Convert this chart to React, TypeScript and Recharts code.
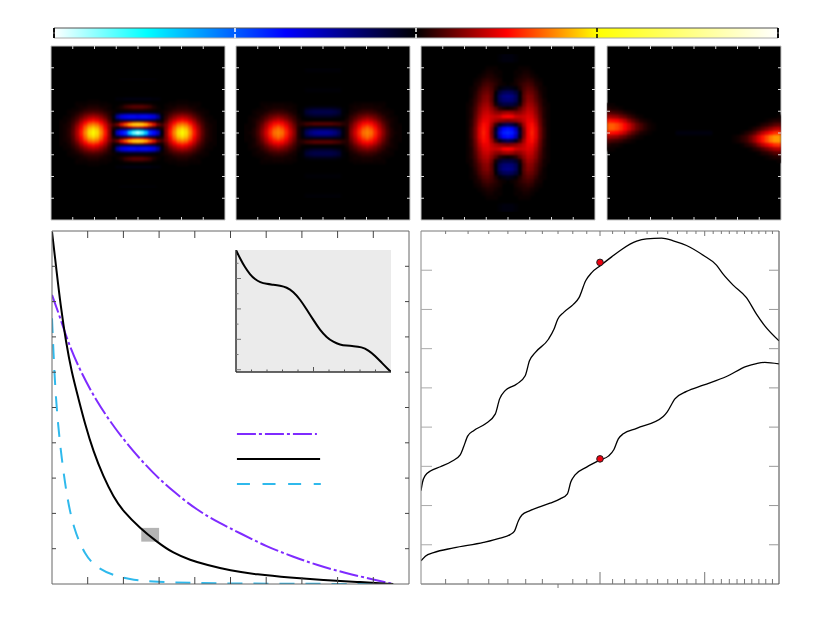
import { useMemo } from 'react'
import {
  ScatterChart, Scatter, LineChart, Line, BarChart, Bar, XAxis, YAxis,
  CartesianGrid, ReferenceArea, ReferenceDot
} from 'recharts'

// colour scale, shared by the colorbar and the four maps
const colorStops = [0, 0.128, 0.32, 0.5, 0.625, 0.75, 1]
const colorValues = [[255, 255, 255], [0, 255, 255], [0, 0, 255], [0, 0, 0], [255, 0, 0], [255, 255, 0], [255, 255, 255]]
const colorbarTicks = [-1, -0.5, 0, 0.5, 1]

// map values in hundredths, listed from the centre column outwards, one list per row offset
// maps A and B use half-height rows (87 rows), C and D full rows (43)
const a0 = [-100, -90, -72, -45, -38, -28, -2, 13, 27, 38, 47, 50, 47, 38, 27, 17, 9, 4, 2, 1]
const a1 = [-78, -70, -55, -40, -35, -23, -1, 14, 27, 37, 46, 49, 46, 37, 27, 17, 9, 4, 2, 1]
const a2 = [-10, -9, -8, -7, -6, -3, 2, 13, 25, 35, 44, 47, 44, 35, 25, 16, 8, 4, 2, 1]
const a3 = [32, 30, 24, 15, 9, 3, 4, 12, 23, 33, 40, 43, 40, 33, 23, 15, 8, 3, 2, 1]
const a4 = [56, 54, 48, 38, 28, 14, 8, 13, 21, 29, 36, 38, 36, 29, 21, 13, 7, 3, 2, 1]
const a5 = [38, 36, 30, 22, 14, 5, 3, 9, 18, 25, 31, 33, 31, 25, 18, 11, 6, 3, 1, 1]
const a6 = [-3, -3, -3, -3, -2, -1, 1, 8, 15, 21, 25, 27, 25, 21, 15, 9, 5, 2, 1, 1]
const a7 = [-28, -29, -29, -28, -25, -15, 0, 5, 12, 16, 20, 22, 20, 16, 12, 7, 4, 2, 1]
const a8 = [-36, -38, -38, -36, -33, -24, -3, 5, 9, 13, 16, 17, 16, 13, 9, 6, 3, 1, 1]
const a9 = [-28, -29, -29, -28, -25, -15, -1, 3, 7, 10, 12, 13, 12, 10, 7, 4, 2, 1]
const a10 = [-5, -5, -5, -4, -3, -2, 1, 3, 5, 7, 8, 9, 8, 7, 5, 3, 2, 1]
const a11 = [0, 0, 0, 0, 0, 0, 1, 2, 3, 5, 6, 6, 6, 5, 3, 2, 1, 1]
const a12 = [5, 5, 4, 3, 2, 1, 0, 1, 2, 3, 4, 4, 4, 3, 2, 1, 1]
const a13 = [10, 10, 9, 7, 3, 1, 0, 1, 2, 2, 3, 3, 3, 2, 2, 1]
const a14 = [5, 5, 4, 3, 1, 0, 0, 1, 1, 1, 2, 2, 2, 1, 1, 1]
const a15 = [0, 0, 0, 0, 0, 0, 0, 0, 1, 1, 1, 1, 1, 1, 1, 1]
const a16 = [0, 0, 0, 0, 0, 0, 0, 0, 0, 0, 1, 1, 1]
const a17 = [-3, -3, -3, -3, -2, -2]
const a27 = [-1, -1, -1, -1, -1]
const mapAUpper = [a27, [], [], [], [], [], [], [], [], [], a17, a16, a15, a14, a13, a12, a11, a10, a9, a8, a7, a6, a5, a4, a3, a2, a1]
const mapA = [...new Array(16).fill([]), ...mapAUpper, a0, ...[...mapAUpper].reverse(), ...new Array(16).fill([])]

const b0 = [-22, -22, -21, -18, -13, -2, 3, 13, 21, 29, 36, 38, 36, 29, 21, 13, 7, 3, 2, 1]
const b1 = [-19, -19, -18, -16, -11, -2, 3, 13, 20, 28, 35, 37, 35, 28, 20, 13, 7, 3, 1, 1]
const b2 = [-10, -10, -10, -8, -6, -1, 3, 12, 19, 27, 33, 36, 33, 27, 19, 12, 6, 3, 1, 1]
const b3 = [-1, -1, -1, -1, 0, 1, 3, 11, 17, 25, 30, 33, 30, 25, 17, 11, 6, 2, 1, 1]
const b4 = [8, 8, 8, 7, 6, 4, 4, 10, 16, 22, 27, 29, 27, 22, 16, 10, 5, 2, 1, 1]
const b5 = [8, 8, 8, 7, 6, 4, 3, 8, 14, 19, 24, 25, 24, 19, 14, 8, 5, 2, 1]
const b6 = [0, 0, 0, 0, 0, 1, 3, 7, 11, 16, 19, 21, 19, 16, 11, 7, 4, 2, 1]
const b7 = [0, 0, 0, 0, 0, 0, 2, 5, 9, 12, 15, 17, 15, 12, 9, 5, 3, 2, 1]
const b8 = [-4, -4, -4, -3, -2, 0, 1, 5, 7, 10, 12, 13, 12, 10, 7, 5, 2, 1, 1]
const b9 = [-8, -8, -8, -7, -5, -1, 1, 3, 5, 8, 9, 10, 9, 8, 5, 3, 2, 1]
const b10 = [-10, -10, -10, -9, -7, -1, 0, 2, 4, 5, 6, 7, 6, 5, 4, 2, 2, 1]
const b11 = [-10, -10, -10, -9, -7, -1, 0, 2, 2, 4, 5, 5, 5, 4, 2, 2, 1, 1]
const b12 = [-6, -6, -6, -5, -4, -1, 0, 1, 2, 2, 3, 3, 3, 2, 2, 1, 1]
const b13 = [-2, -2, -2, -2, -1, 0, 0, 1, 2, 2, 2, 2, 2, 2, 2, 1]
const b14 = [0, 0, 0, 0, 0, 0, 0, 1, 1, 1, 2, 2, 2, 1, 1, 1]
const b15 = [0, 0, 0, 0, 0, 0, 0, 0, 1, 1, 1, 1, 1, 1, 1, 1]
const bFaint = [-1, -1, -1, -1, -1]
const mapBUpper = [bFaint, bFaint, [], [], [], [], [], [], [], [], bFaint, bFaint, [], [], [], [], [], b15, b14, b13, b12, b11, b10, b9, b8, b7, b6, b5, b4, b3, b2, b1]
const mapB = [...new Array(11).fill([]), ...mapBUpper, b0, ...[...mapBUpper].reverse(), ...new Array(11).fill([])]

const c0 = [-42, -40, -30, -6, 12, 24, 28, 22, 12, 5, 1]
const c1 = [-38, -36, -24, -4, 13, 24, 27, 22, 12, 5, 1]
const c2 = [-12, -9, -4, 6, 16, 24, 26, 20, 11, 4, 1]
const c3 = [12, 13, 14, 16, 19, 23, 23, 18, 10, 4, 1]
const c4 = [25, 24, 20, 19, 20, 22, 21, 16, 9, 3, 1]
const c5 = [16, 15, 13, 14, 17, 20, 19, 14, 8, 3, 1]
const c6 = [1, 2, 4, 9, 14, 18, 17, 13, 7, 3, 1]
const c7 = [-9, -9, -6, 2, 11, 16, 15, 11, 6, 2, 1]
const c8 = [-17, -16, -12, -1, 9, 14, 13, 9, 5, 2]
const c9 = [-19, -18, -13, -1, 9, 13, 12, 8, 4, 1]
const c10 = [-13, -12, -8, 0, 8, 11, 10, 7, 3, 1]
const c11 = [-4, -3, -1, 3, 7, 9, 8, 5, 2, 1]
const c12 = [0, 1, 2, 4, 6, 7, 6, 3, 2]
const c13 = [0, 0, 2, 3, 4, 5, 4, 2, 1]
const c14 = [0, 0, 1, 2, 3, 3, 2, 1]
const c15 = [0, 0, 1, 1, 2, 2, 1]
const c16 = [0, 0, 0, 1, 1, 1]
const c18 = [-2, -2, -1]
const mapC = [[], [], c18, c18, [], c16, c15, c14, c13, c12, c11, c10, c9, c8, c7, c6, c5, c4, c3, c2, c1, c0, c1, c2, c3, c4, c5, c6, c7, c8, c9, c10, c11, c12, c13, c14, c15, c16, [], c18, c18, [], []]

// fourth map: one blob on each side edge, lists run inwards from that edge
const leftEdge = [[1, 1], [3, 2, 2, 1], [8, 7, 6, 5, 3, 2, 1], [16, 15, 14, 11, 9, 6, 4, 2, 1], [27, 26, 25, 22, 18, 13, 9, 6, 3, 2, 1], [34, 34, 32, 29, 25, 20, 15, 10, 7, 4, 2, 1], [34, 34, 32, 29, 25, 20, 15, 10, 7, 4, 2, 1], [27, 26, 25, 22, 18, 13, 9, 6, 3, 2, 1], [16, 15, 14, 11, 9, 6, 4, 2, 1], [8, 7, 6, 5, 3, 2, 1], [3, 2, 2, 1], [1, 1], [], [], []]
const rightEdge = [[], [], [], [1], [3, 3, 2, 1], [9, 8, 6, 4, 3, 1], [18, 17, 14, 11, 8, 5, 3, 1], [30, 29, 26, 22, 18, 13, 8, 5, 3, 1], [40, 40, 37, 32, 27, 21, 15, 10, 6, 4, 2, 1], [40, 40, 37, 32, 27, 21, 15, 10, 6, 4, 2, 1], [30, 29, 26, 22, 18, 13, 8, 5, 3, 1], [18, 17, 14, 11, 8, 5, 3, 1], [9, 8, 6, 4, 3, 1], [3, 3, 2, 1], [1]]
const midRow = [-2, -2, -2, -2, -2]
const firstEdgeRow = 14

const panelTicks = [5.375, 10.75, 16.125, 21.5, 26.875, 32.25, 37.625]

// lower left
const blackX = [0, 0.13, 0.24, 0.39, 0.55, 0.74, 0.92, 1.16, 1.44, 1.72, 2.0, 2.47, 2.93, 3.4, 3.87, 4.33, 4.99, 5.73, 6.67, 7.6, 8.53, 9.56]
const blackY = [9.98, 8.85, 7.9, 6.86, 6.0, 5.26, 4.55, 3.75, 3.04, 2.47, 2.05, 1.58, 1.2, 0.87, 0.68, 0.54, 0.38, 0.27, 0.18, 0.11, 0.06, 0]
const purpleX = [0, 0.22, 0.46, 0.78, 1.25, 1.76, 2.28, 2.84, 3.4, 4.05, 4.7, 5.27, 6.01, 6.76, 7.41, 8.25, 9.0, 9.56]
const purpleY = [8.19, 7.57, 6.82, 6.06, 5.17, 4.41, 3.75, 3.13, 2.62, 2.1, 1.72, 1.44, 1.06, 0.77, 0.54, 0.3, 0.13, 0]
const cyanX = [0, 0.04, 0.09, 0.17, 0.27, 0.41, 0.6, 0.92, 1.25, 1.72, 2.28, 2.93, 3.87, 5.27, 9.0]
const cyanY = [7.53, 6.58, 5.54, 4.5, 3.56, 2.52, 1.58, 0.82, 0.46, 0.24, 0.11, 0.06, 0.03, 0.01, 0]
const unitTicks = [1, 2, 3, 4, 5, 6, 7, 8, 9]
const keyPurpleX = [5.18, 7.42]
const keyPurpleY = [4.25, 4.25]
const keyBlackX = [5.18, 7.51]
const keyBlackY = [3.54, 3.54]
const keyCyanX = [5.18, 7.53]
const keyCyanY = [2.83, 2.83]

// inset
const insetX = [0, 0.26, 0.58, 0.9, 1.23, 1.55, 1.98, 2.41, 2.84, 3.27, 3.7, 4.13, 4.56, 4.99, 5.42, 5.85, 6.28, 6.71, 7.14, 7.57, 8.11, 8.54, 8.97, 9.4, 10]
const insetY = [7.87, 7.32, 6.73, 6.27, 5.94, 5.75, 5.64, 5.59, 5.53, 5.42, 5.13, 4.63, 3.97, 3.27, 2.61, 2.13, 1.82, 1.64, 1.58, 1.56, 1.49, 1.29, 0.92, 0.46, -0.15]
const insetTicksX = [1, 2, 3, 4, 5, 6, 7, 8, 9]
const insetTicksY = [0, 1, 2, 3, 4, 5, 6, 7]

// lower right, log x
const upperX = [100, 100.6, 101.7, 103.7, 107.8, 112.7, 116.4, 117.9, 119.8, 122.6, 128.2, 133.3, 135.6, 138.5, 144.9, 149.7, 152.2, 155.6, 163.8, 167.4, 169.8, 173.6, 180.4, 184.4, 189.2, 193.7, 200, 209.2, 217.5, 230.5, 239.5, 253.9, 265.6, 279.6, 298.3, 314, 322.2, 334.9, 352.6, 366.6, 378.6, 400]
const upperY = [2.38, 2.6, 2.77, 2.88, 2.99, 3.13, 3.29, 3.49, 3.77, 3.91, 4.08, 4.33, 4.72, 4.93, 5.1, 5.31, 5.69, 5.9, 6.24, 6.5, 6.75, 6.92, 7.13, 7.3, 7.73, 7.94, 8.11, 8.34, 8.53, 8.74, 8.8, 8.82, 8.75, 8.63, 8.38, 8.13, 7.9, 7.62, 7.3, 6.88, 6.58, 6.2]
const lowerX = [100, 101.7, 105, 113.5, 127.4, 135.9, 141.2, 143.5, 145.9, 147.8, 152.5, 164.8, 171.4, 176.3, 178.6, 181.6, 189.9, 200, 206.6, 211.1, 214.7, 218.9, 230.5, 255.5, 259.5, 267.3, 279.6, 298.3, 326.4, 352.6, 366.6, 378.6, 400]
const lowerY = [0.59, 0.71, 0.8, 0.92, 1.06, 1.17, 1.26, 1.34, 1.62, 1.76, 1.87, 2.06, 2.17, 2.3, 2.6, 2.78, 2.98, 3.16, 3.26, 3.43, 3.7, 3.83, 3.97, 4.27, 4.39, 4.72, 4.91, 5.07, 5.29, 5.55, 5.62, 5.65, 5.61]
const logTicks = [110, 120, 130, 140, 150, 160, 170, 180, 190, 200, 210, 220, 230, 240, 250, 260, 270, 280, 290, 300, 310, 320, 330, 340, 350, 360, 370, 380, 390]
const logValueTicks = [1, 2, 3, 4, 5, 6, 7, 8]
const markerX = 200
const markerUpperY = 8.2
const markerLowerY = 3.19

const PAD = 16
const COLS = 43
const PANEL = 174
const chartMargin = { top: PAD - 1, right: PAD - 1, bottom: PAD - 1, left: PAD - 1 }

const zip = (xs: number[], ys: number[]) => xs.map((x, i) => ({ x, y: ys[i] }))

// expand a centre-first list to a full row
const sym = (list: number[]) => {
  const row = new Array(COLS).fill(0)
  list.forEach((v, d) => { row[21 - d] = v; row[21 + d] = v })
  return row
}

const edgeRows = leftEdge.map((left, i) => {
  const row = sym(firstEdgeRow + i === 21 ? midRow : [])
  left.forEach((v, c) => { row[c] = v })
  rightEdge[i].forEach((v, c) => { row[COLS - 1 - c] = v })
  return row
})
const mapD = Array.from({ length: COLS }, (_, r) => edgeRows[r - firstEdgeRow] ?? [])

function heatColor(v: number) {
  const t = (v + 1) / 2
  let i = 0
  while (i < colorStops.length - 2 && t > colorStops[i + 1]) i++
  const f = Math.min(1, Math.max(0, (t - colorStops[i]) / (colorStops[i + 1] - colorStops[i])))
  const c = colorValues[i].map((a, k) => Math.round(a + (colorValues[i + 1][k] - a) * f))
  return `rgb(${c[0]},${c[1]},${c[2]})`
}

// axis ticks drawn by hand so length and colour can differ tick by tick; negative length points outwards.
// a top axis with no series of its own gets no ticks, so the bottom axis draws the top row as well
const xMark = (plotH: number, bottom: (v: number) => number, top: (v: number) => number, color: (v: number) => string, w = 1) => (p: any) => {
  const v = p.payload.value
  return (
    <g stroke={color(v)} strokeWidth={w}>
      <line x1={p.x} x2={p.x} y1={p.y} y2={p.y - bottom(v)} />
      <line x1={p.x} x2={p.x} y1={p.y - plotH} y2={p.y - plotH + top(v)} />
    </g>
  )
}
const yMark = (side: string, len: (v: number) => number, color: (v: number) => string) => (p: any) => {
  const v = p.payload.value
  const x2 = side === 'left' ? p.x + len(v) : p.x - len(v)
  return <line x1={p.x} x2={x2} y1={p.y} y2={p.y} stroke={color(v)} />
}

const bare = { tickSize: 0, tickMargin: 0, tickLine: false, interval: 0 as const, allowDataOverflow: true }

function HeatPanel({ left, rows }: { left: number; rows: number[][] }) {
  const cellW = PANEL / COLS
  const cellH = PANEL / rows.length
  const cells = useMemo(() => {
    const out: { col: number; row: number; v: number }[] = []
    rows.forEach((list, r) => {
      const full = list.length === COLS ? list : sym(list)
      full.forEach((v, c) => {
        if (v !== 0) out.push({ col: c + 0.5, row: ((r + 0.5) * COLS) / rows.length, v: v / 100 })
      })
    })
    return out
  }, [rows])
  const line = { stroke: '#c4c4c4', strokeWidth: 1 }
  const light = () => '#d8d8d8'
  const three = () => 3
  return (
    <div style={{ position: 'absolute', left: left - PAD, top: 46 - PAD }}>
      <ScatterChart width={PANEL + 2 * PAD} height={PANEL + 2 * PAD} margin={chartMargin}>
        <CartesianGrid fill="#000" horizontal={false} vertical={false} />
        <XAxis {...bare} type="number" dataKey="col" domain={[0, COLS]} ticks={panelTicks} height={1} axisLine={line} tick={xMark(PANEL, three, three, light)} />
        <XAxis xAxisId="top" orientation="top" type="number" domain={[0, COLS]} height={1} axisLine={line} tick={false} tickLine={false} />
        <YAxis {...bare} type="number" dataKey="row" reversed domain={[0, COLS]} ticks={panelTicks} width={1} axisLine={line} tick={yMark('left', three, light)} />
        <YAxis {...bare} yAxisId="right" orientation="right" type="number" reversed domain={[0, COLS]} ticks={panelTicks} width={1} axisLine={line} tick={yMark('right', three, light)} />
        <Scatter
          className="heat"
          data={cells}
          isAnimationActive={false}
          shape={(p: any) => (
            <rect x={p.cx - cellW / 2 - 0.2} y={p.cy - cellH / 2 - 0.2} width={cellW + 0.4} height={cellH + 0.4} fill={heatColor(p.payload.v)} />
          )}
        />
      </ScatterChart>
    </div>
  )
}

function Colorbar() {
  const tickColor = (v: number) => (v === -0.5 || v === 0 ? '#fff' : '#000')
  const four = () => 4
  return (
    <div style={{ position: 'absolute', left: 54 - PAD, top: 28 - PAD }}>
      <BarChart width={724 + 2 * PAD} height={10 + 2 * PAD} layout="vertical" margin={chartMargin} barCategoryGap={0} data={[{ name: 'v', range: [-1, 1] }]}>
        <defs>
          <linearGradient id="cbar" x1="0" x2="1" y1="0" y2="0">
            {colorStops.map((s, i) => (
              <stop key={s} offset={s} stopColor={`rgb(${colorValues[i].join(',')})`} />
            ))}
          </linearGradient>
        </defs>
        <XAxis {...bare} type="number" domain={[-1, 1]} ticks={colorbarTicks} height={1} axisLine={{ stroke: '#aaa' }} tick={xMark(10, four, four, tickColor, 1.5)} />
        <XAxis xAxisId="top" orientation="top" type="number" domain={[-1, 1]} height={1} axisLine={{ stroke: '#555' }} tick={false} tickLine={false} />
        <YAxis type="category" dataKey="name" width={1} tick={false} tickLine={false} axisLine={{ stroke: '#000', strokeWidth: 1.5 }} />
        <YAxis yAxisId="right" orientation="right" type="category" dataKey="name" width={1} tick={false} tickLine={false} axisLine={{ stroke: '#000', strokeWidth: 1.5 }} />
        <Bar dataKey="range" fill="url(#cbar)" isAnimationActive={false} />
      </BarChart>
    </div>
  )
}

function CurvesChart() {
  const frame = { stroke: '#666', strokeWidth: 1 }
  const dark = () => '#444'
  return (
    <div style={{ position: 'absolute', left: 52 - PAD, top: 231 - PAD }}>
      <LineChart width={357 + 2 * PAD} height={353 + 2 * PAD} margin={chartMargin}>
        <XAxis {...bare} type="number" dataKey="x" domain={[0, 10]} ticks={unitTicks} height={1} axisLine={frame} tick={xMark(353, () => 7, () => 7, dark)} />
        <XAxis xAxisId="top" orientation="top" type="number" domain={[0, 10]} height={1} axisLine={frame} tick={false} tickLine={false} />
        <YAxis {...bare} type="number" domain={[0, 10]} ticks={unitTicks} width={1} axisLine={frame} tick={yMark('left', () => 4, dark)} />
        <YAxis {...bare} yAxisId="right" orientation="right" type="number" domain={[0, 10]} ticks={unitTicks} width={1} axisLine={frame} tick={yMark('right', () => 4, dark)} />
        <ReferenceArea x1={2.5} x2={3.0} y1={1.2} y2={1.59} fill="#b4b4b4" fillOpacity={1} stroke="none" />
        <Line data={zip(purpleX, purpleY)} dataKey="y" type="basis" stroke="#7f2bff" strokeWidth={2} strokeDasharray="19 3 3 3" dot={false} isAnimationActive={false} />
        <Line data={zip(cyanX, cyanY)} dataKey="y" type="basis" stroke="#2fb9ec" strokeWidth={2} strokeDasharray="15 11" dot={false} isAnimationActive={false} />
        <Line data={zip(blackX, blackY)} dataKey="y" type="basis" stroke="#000" strokeWidth={2} dot={false} isAnimationActive={false} />
        <Line data={zip(keyPurpleX, keyPurpleY)} dataKey="y" type="linear" stroke="#7f2bff" strokeWidth={2} strokeDasharray="19 3 3 3" dot={false} isAnimationActive={false} />
        <Line data={zip(keyBlackX, keyBlackY)} dataKey="y" type="linear" stroke="#000" strokeWidth={2} dot={false} isAnimationActive={false} />
        <Line data={zip(keyCyanX, keyCyanY)} dataKey="y" type="linear" stroke="#2fb9ec" strokeWidth={2} strokeDasharray="13 12.6" dot={false} isAnimationActive={false} />
      </LineChart>
    </div>
  )
}

function InsetChart() {
  const axis = { stroke: '#333', strokeWidth: 1.5 }
  return (
    <div style={{ position: 'absolute', left: 236 - PAD, top: 250 - PAD }}>
      <LineChart width={155 + 2 * PAD} height={122 + 2 * PAD} margin={{ top: PAD, right: PAD, bottom: PAD - 1, left: PAD - 1 }}>
        <CartesianGrid fill="#ebebeb" horizontal={false} vertical={false} />
        <XAxis {...bare} type="number" dataKey="x" domain={[0, 10]} ticks={insetTicksX} height={1} axisLine={axis} tick={xMark(122, (v) => (v === 5 ? 5 : 2.5), () => 0, () => '#555')} />
        <YAxis {...bare} type="number" domain={[-0.15, 7.875]} ticks={insetTicksY} width={1} axisLine={axis} tick={yMark('left', (v) => (v % 2 === 0 ? 5 : 2.5), () => '#777')} />
        <Line data={zip(insetX, insetY)} dataKey="y" type="basis" stroke="#000" strokeWidth={2} dot={false} isAnimationActive={false} />
      </LineChart>
    </div>
  )
}

function LogChart() {
  const major = (v: number) => v === 200 || v === 300
  const bottomLen = (v: number) => (v === 170 ? -4 : major(v) ? 12 : 5)
  const topLen = (v: number) => (major(v) ? 5 : 3)
  return (
    <div style={{ position: 'absolute', left: 421 - PAD, top: 231 - PAD }}>
      <LineChart width={358 + 2 * PAD} height={353 + 2 * PAD} margin={chartMargin}>
        <XAxis {...bare} type="number" scale="log" dataKey="x" domain={[100, 400]} ticks={logTicks} height={1} axisLine={{ stroke: '#555' }} tick={xMark(353, bottomLen, topLen, () => '#777')} />
        <XAxis xAxisId="top" orientation="top" type="number" scale="log" domain={[100, 400]} height={1} axisLine={{ stroke: '#777' }} tick={false} tickLine={false} />
        <YAxis {...bare} type="number" domain={[0, 9]} ticks={logValueTicks} width={1} axisLine={{ stroke: '#888' }} tick={yMark('left', () => 11, () => '#aaa')} />
        <YAxis {...bare} yAxisId="right" orientation="right" type="number" domain={[0, 9]} ticks={logValueTicks} width={1} axisLine={{ stroke: '#444' }} tick={yMark('right', () => 10, () => '#999')} />
        <Line data={zip(upperX, upperY)} dataKey="y" type="monotone" stroke="#000" strokeWidth={1.3} dot={false} isAnimationActive={false} />
        <Line data={zip(lowerX, lowerY)} dataKey="y" type="monotone" stroke="#000" strokeWidth={1.3} dot={false} isAnimationActive={false} />
        <ReferenceDot x={markerX} y={markerUpperY} r={3.3} fill="#ee0010" stroke="#222" strokeWidth={1} />
        <ReferenceDot x={markerX} y={markerLowerY} r={3.3} fill="#ee0010" stroke="#222" strokeWidth={1} />
      </LineChart>
    </div>
  )
}

export default function App() {
  return (
    <div style={{ position: 'absolute', left: 0, top: 0, width: 831, height: 636, background: '#fff' }}>
      <style>{'.heat{filter:blur(1px);clip-path:inset(0)}'}</style>
      <Colorbar />
      <HeatPanel left={51} rows={mapA} />
      <HeatPanel left={236} rows={mapB} />
      <HeatPanel left={421} rows={mapC} />
      <HeatPanel left={606.5} rows={mapD} />
      <CurvesChart />
      <InsetChart />
      <LogChart />
    </div>
  )
}
